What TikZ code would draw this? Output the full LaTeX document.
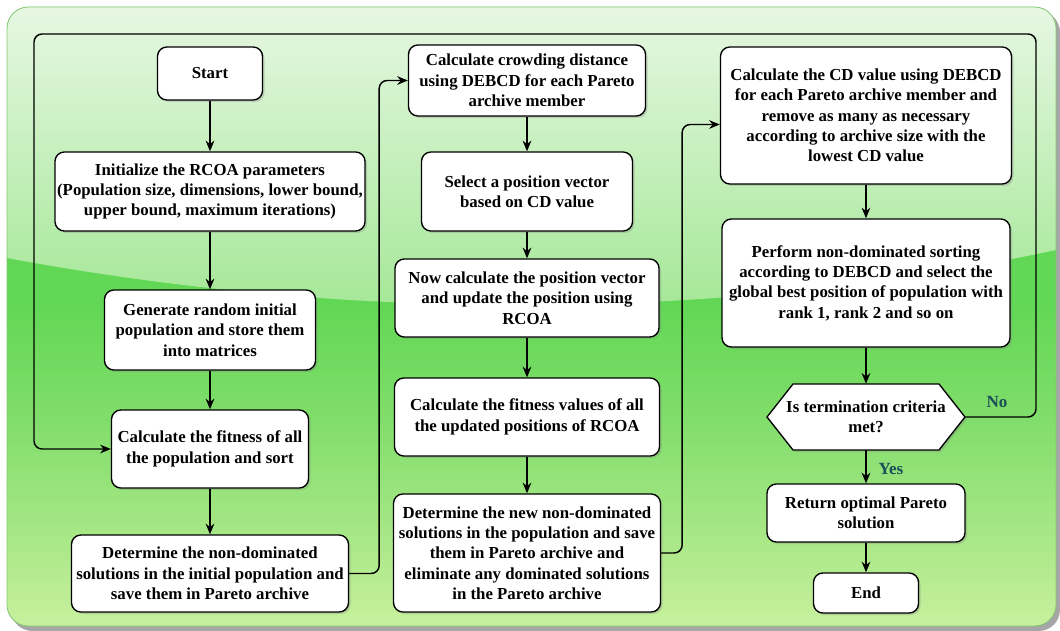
\documentclass[tikz,border=0pt]{standalone}
\usepackage{fontspec}
\setmainfont{Liberation Serif}
\usetikzlibrary{arrows.meta,positioning,calc,shadows}
\definecolor{bgtop}{HTML}{E6F7E2}
\definecolor{glossbot}{HTML}{A2E794}
\definecolor{bgmid}{HTML}{62D755}
\definecolor{bglow}{HTML}{80DD6A}
\definecolor{bgbottom}{HTML}{C8F09E}
\definecolor{bgedge}{HTML}{86C673}
\definecolor{labelteal}{HTML}{1B4F5A}
\pgfdeclareverticalshading{bgshade}{100bp}{color(0bp)=(bgbottom); color(25bp)=(bgbottom); color(34bp)=(bglow!55!bgbottom); color(42bp)=(bglow); color(51bp)=(bgmid); color(100bp)=(bgmid)}

\begin{document}
\begin{tikzpicture}[x=0.75pt,y=-0.75pt,
    box/.style={draw,fill=white,line width=1pt,rounded corners=7pt,align=center,
      font=\bfseries\fontsize{12.6}{15.2}\selectfont,inner sep=1pt,
      drop shadow={shadow xshift=1.5pt,shadow yshift=-1.5pt,opacity=0.3}},
    line/.style={line width=1.1pt,-{Stealth[length=8pt,width=6.5pt]}},
    loop/.style={line,rounded corners=6pt},
    tag/.style={font=\bfseries\fontsize{12.8}{15}\selectfont,text=labelteal}]
    \useasboundingbox (0,0) rectangle (1060,631);
    \fill[black!35,rounded corners=16pt] (11,11) rectangle (1060,631);
    \shade[shading=bgshade,rounded corners=16pt] (7,7) rectangle (1056,626);
    \begin{scope}
        \clip[rounded corners=16pt] (7,7) rectangle (1056,626);
        \shade[top color=bgtop,bottom color=glossbot] (7,7) -- (7,258) .. controls (350,322) and (720,322) .. (1056,250) -- (1056,7) -- cycle;
    \end{scope}
    \draw[bgedge,line width=0.6pt,rounded corners=16pt] (7,7) rectangle (1056,626);

    \node[box,minimum width=78.75pt,minimum height=39.75pt] (start) at (210,73.5) {Start};
    \node[box,minimum width=232.5pt,minimum height=59.25pt] (init) at (210,191.5) {Initialize the RCOA parameters\\(Population size, dimensions, lower bound,\\upper bound, maximum iterations)};
    \node[box,minimum width=158.25pt,minimum height=60pt] (gen) at (210,330) {Generate random initial\\population and store them\\into matrices};
    \node[box,minimum width=147.75pt,minimum height=58.5pt] (fit) at (210,449) {Calculate the fitness of all\\the population and sort};
    \node[box,minimum width=207.75pt,minimum height=57.75pt] (det1) at (210,573.5) {Determine the non-dominated\\solutions in the initial population and\\save them in Pareto archive};

    \node[box,minimum width=177.75pt,minimum height=53.25pt] (crowd) at (527,80.5) {Calculate crowding distance\\using DEBCD for each Pareto\\archive member};
    \node[box,minimum width=158.25pt,minimum height=59.25pt] (sel) at (527,191.5) {Select a position vector\\based on CD value};
    \node[box,minimum width=198pt,minimum height=58.5pt] (now) at (527,298) {Now calculate the position vector\\and update the position using\\RCOA};
    \node[box,minimum width=198.75pt,minimum height=58.5pt] (fval) at (527,417) {Calculate the fitness values of all\\the updated positions of RCOA};
    \node[box,minimum width=200.25pt,minimum height=88.5pt] (detn) at (527,553) {Determine the new non-dominated\\solutions in the population and save\\them in Pareto archive and\\eliminate any dominated solutions\\in the Pareto archive};

    \node[box,minimum width=218.25pt,minimum height=102.75pt] (cd) at (866,115.5) {Calculate the CD value using DEBCD\\for each Pareto archive member and\\remove as many as necessary\\according to archive size with the\\lowest CD value};
    \node[box,minimum width=216pt,minimum height=96pt] (perf) at (866,283) {Perform non-dominated sorting\\according to DEBCD and select the\\global best position of population with\\rank 1, rank 2 and so on};
    \filldraw[fill=white,line width=1pt,drop shadow={shadow xshift=1.5pt,shadow yshift=-1.5pt,opacity=0.3}] (767,417) -- (793,384) -- (939,384) -- (965,417) -- (939,450) -- (793,450) -- cycle;
    \node[align=center,font=\bfseries\fontsize{12.6}{15.2}\selectfont,minimum width=148.5pt,minimum height=49.5pt] (dec) at (866,417) {Is termination criteria\\met?};
    \node[box,minimum width=148.5pt,minimum height=43.5pt] (ret) at (866,513) {Return optimal Pareto\\solution};
    \node[box,minimum width=78.75pt,minimum height=30pt] (end) at (866,593) {End};

    \draw[line] (start) -- (init);
    \draw[line] (init) -- (gen);
    \draw[line] (gen) -- (fit);
    \draw[line] (fit) -- (det1);
    \draw[loop] (det1.east) -- ++(30,0) |- (crowd.west);
    \draw[line] (crowd) -- (sel);
    \draw[line] (sel) -- (now);
    \draw[line] (now) -- (fval);
    \draw[line] (fval) -- (detn);
    \draw[loop] (detn.east) -- ++(21,0) |- ($(cd.west)+(0,9)$);
    \draw[line] (cd) -- (perf);
    \draw[line] (perf) -- (dec);
    \draw[line] (dec) -- (ret);
    \draw[line] (ret) -- (end);

    \coordinate (ne) at (1036,34);
    \coordinate (nw) at (34,34);
    \draw[loop] (dec.east) -| (ne) -- (nw) |- (fit.west);
    \node[tag] (no) at (997,402) {No};
    \node[tag] (yes) at (891,469) {Yes};
\end{tikzpicture}
\end{document}
